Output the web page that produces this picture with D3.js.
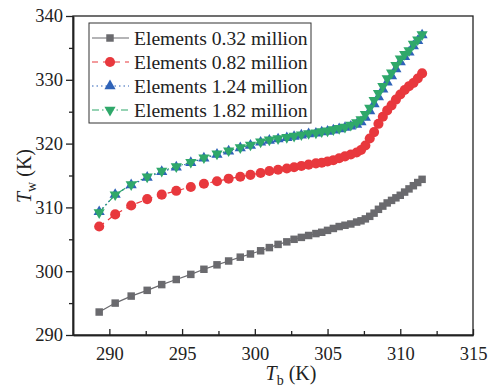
<!DOCTYPE html>
<html>
<head>
<meta charset="utf-8">
<script src="https://cdn.jsdelivr.net/npm/d3@7"></script>
<style>
  body { margin: 0; background: #fff; }
  svg { display: block; font-family: "Liberation Serif", "DejaVu Serif", serif; }
</style>
</head>
<body>
<div id="chart-area"></div>
<script>

// Data
let tb = [289.3, 290.4, 291.5, 292.6, 293.6, 294.6, 295.6, 296.5, 297.4, 298.2,
          299.0, 299.7, 300.4, 301.0, 301.6, 302.2, 302.7, 303.2, 303.7, 304.2,
          304.6, 305.0, 305.4, 305.8, 306.2, 306.6, 307.0, 307.3, 307.6, 307.9,
          308.2, 308.5, 308.8, 309.1, 309.4, 309.7, 310.0, 310.3, 310.6, 310.9,
          311.2, 311.5];

let tw032 = [293.6, 295.0, 296.1, 297.0, 297.9, 298.7, 299.5, 300.3, 301.0, 301.6,
             302.2, 302.7, 303.2, 303.7, 304.2, 304.6, 305.0, 305.3, 305.6, 305.9,
             306.1, 306.4, 306.7, 307.0, 307.2, 307.4, 307.7, 307.9, 308.2, 308.6,
             309.1, 309.7, 310.2, 310.7, 311.1, 311.5, 311.9, 312.4, 312.9, 313.4,
             313.9, 314.4];

let tw082 = [307.0, 308.9, 310.3, 311.3, 312.0, 312.6, 313.2, 313.7, 314.1, 314.5,
             314.8, 315.1, 315.4, 315.7, 315.9, 316.1, 316.3, 316.5, 316.7, 316.9,
             317.0, 317.2, 317.4, 317.7, 318.0, 318.3, 318.6, 319.0, 319.7, 320.8,
             321.8, 323.1, 324.2, 325.2, 326.0, 326.9, 327.7, 328.4, 329.0, 329.5,
             330.2, 331.0];

let tw124 = [309.3, 312.0, 313.5, 314.7, 315.6, 316.3, 317.0, 317.7, 318.3, 318.8,
             319.3, 319.7, 320.2, 320.5, 320.7, 320.9, 321.1, 321.3, 321.5, 321.6,
             321.8, 321.9, 322.1, 322.3, 322.5, 322.7, 323.0, 323.4, 324.1, 325.1,
             326.2, 327.3, 328.5, 329.6, 330.6, 331.7, 332.8, 333.6, 334.3, 335.3,
             336.1, 337.0];

let tw182 = [309.2, 312.0, 313.6, 314.8, 315.7, 316.4, 317.1, 317.8, 318.4, 318.9,
             319.4, 319.8, 320.3, 320.6, 320.8, 321.0, 321.2, 321.4, 321.6, 321.7,
             321.9, 322.0, 322.2, 322.4, 322.6, 322.9, 323.3, 323.8, 324.6, 325.6,
             326.8, 327.9, 329.0, 330.2, 331.1, 332.3, 333.3, 334.0, 334.6, 335.6,
             336.3, 337.1];

let seriesNames = ["Elements 0.32 million", "Elements 0.82 million",
                   "Elements 1.24 million", "Elements 1.82 million"];

let xTicks = [290, 295, 300, 305, 310, 315];
let yTicks = [290, 300, 310, 320, 330, 340];


/////////////////////////
// SVG drawing area
/////////////////////////

let margin = {top: 16, right: 16, bottom: 52, left: 73};

let width = 489 - margin.left - margin.right,
    height = 387 - margin.top - margin.bottom;

let svg = d3.select("#chart-area").append("svg")
    .attr("width", 489)
    .attr("height", 387)
  .append("g")
    .attr("transform", "translate(" + margin.left + "," + margin.top + ")");

let x = d3.scaleLinear()
  .domain([287.5, 315])
  .range([0, width]);

let y = d3.scaleLinear()
  .domain([290, 340])
  .range([height, 0]);

// styles per series
let styles = [
  {data: tw032, color: "#6a6a6e", dash: null, symbol: d3.symbolSquare, size: 56, rot: 0},
  {data: tw082, color: "#e8383d", dash: "6,5", symbol: d3.symbolCircle, size: 80, rot: 0},
  {data: tw124, color: "#2f63b8", dash: "1.5,3", symbol: d3.symbolTriangle, size: 54, rot: 0},
  {data: tw182, color: "#2fa86a", dash: "7,3,1.5,3", symbol: d3.symbolTriangle, size: 54, rot: 180}
];


/////////////////////////
// Axes
/////////////////////////

let axisColor = "#222";
let fontSize = 18.5;

// frame (top and right)
svg.append("rect")
  .attr("x", 0).attr("y", 0)
  .attr("width", width).attr("height", height)
  .attr("fill", "none")
  .attr("stroke", axisColor)
  .attr("stroke-width", 1.3);

let xAxis = d3.axisBottom(x)
  .tickValues(xTicks)
  .tickFormat(d3.format("d"))
  .tickSizeInner(-6)
  .tickSizeOuter(0)
  .tickPadding(12);

let xMinor = d3.axisBottom(x)
  .tickValues([292.5, 297.5, 302.5, 307.5, 312.5])
  .tickFormat("")
  .tickSizeInner(-4)
  .tickSizeOuter(0);

let yAxis = d3.axisLeft(y)
  .tickValues(yTicks)
  .tickFormat(d3.format("d"))
  .tickSizeInner(7)
  .tickSizeOuter(0)
  .tickPadding(3);

let yMinor = d3.axisLeft(y)
  .tickValues([295, 305, 315, 325, 335])
  .tickFormat("")
  .tickSizeInner(4)
  .tickSizeOuter(0);

function styleAxis(g) {
  g.select(".domain").attr("stroke", axisColor).attr("stroke-width", 1.5);
  g.selectAll(".tick line").attr("stroke", axisColor).attr("stroke-width", 1.3);
  g.selectAll(".tick text")
    .attr("fill", "#222")
    .attr("font-size", fontSize)
    .attr("font-family", "Liberation Serif");
}

svg.append("g")
  .attr("class", "x-axis axis")
  .attr("transform", "translate(0," + height + ")")
  .call(xAxis)
  .call(styleAxis);

svg.append("g")
  .attr("transform", "translate(0," + height + ")")
  .call(xMinor)
  .call(styleAxis);

svg.append("g")
  .attr("class", "y-axis axis")
  .call(yAxis)
  .call(styleAxis);

svg.append("g")
  .call(yMinor)
  .call(styleAxis);

// axis titles
let xLab = svg.append("text")
  .attr("x", 291 - margin.left)
  .attr("y", height + 45)
  .attr("text-anchor", "middle")
  .attr("font-size", 20)
  .attr("fill", "#222");
xLab.append("tspan").attr("font-style", "italic").text("T");
xLab.append("tspan").attr("font-size", 14).attr("dy", 5).text("b");
xLab.append("tspan").attr("dy", -5).text(" (K)");

let yLab = svg.append("text")
  .attr("transform", "translate(" + (31 - margin.left) + "," + (176 - margin.top) + ") rotate(-90)")
  .attr("text-anchor", "middle")
  .attr("font-size", 20)
  .attr("fill", "#222");
yLab.append("tspan").attr("font-style", "italic").text("T");
yLab.append("tspan").attr("font-size", 14).attr("dy", 5).text("w");
yLab.append("tspan").attr("dy", -5).text(" (K)");


/////////////////////////
// Series
/////////////////////////

let line = d3.line()
  .x(function(d, i) { return x(tb[i]); })
  .y(function(d) { return y(d); });

styles.forEach(function(s) {
  svg.append("path")
    .datum(s.data)
    .attr("d", line)
    .attr("fill", "none")
    .attr("stroke", s.color)
    .attr("stroke-width", 1.2)
    .attr("stroke-dasharray", s.dash);

  svg.selectAll(null)
    .data(s.data)
    .enter()
    .append("path")
    .attr("d", d3.symbol().type(s.symbol).size(s.size))
    .attr("transform", function(d, i) {
      return "translate(" + x(tb[i]) + "," + y(d) + ") rotate(" + s.rot + ")";
    })
    .attr("fill", s.color);
});


/////////////////////////
// Legend
/////////////////////////

let legend = svg.append("g")
  .attr("transform", "translate(" + (89 - margin.left) + "," + (23 - margin.top) + ")");

legend.append("rect")
  .attr("width", 222)
  .attr("height", 100)
  .attr("fill", "#fff")
  .attr("stroke", "#333")
  .attr("stroke-width", 1);

styles.forEach(function(s, i) {
  let yy = 15 + i * 24;
  legend.append("line")
    .attr("x1", 3).attr("x2", 40)
    .attr("y1", yy).attr("y2", yy)
    .attr("stroke", s.color)
    .attr("stroke-width", 1.2)
    .attr("stroke-dasharray", s.dash);
  legend.append("path")
    .attr("d", d3.symbol().type(s.symbol).size(s.size))
    .attr("transform", "translate(21," + yy + ") rotate(" + s.rot + ")")
    .attr("fill", s.color);
  legend.append("text")
    .attr("x", 45)
    .attr("y", yy + 6.5)
    .attr("font-size", 19.6)
    .attr("fill", "#222")
    .text(seriesNames[i]);
});

</script>
</body>
</html>
